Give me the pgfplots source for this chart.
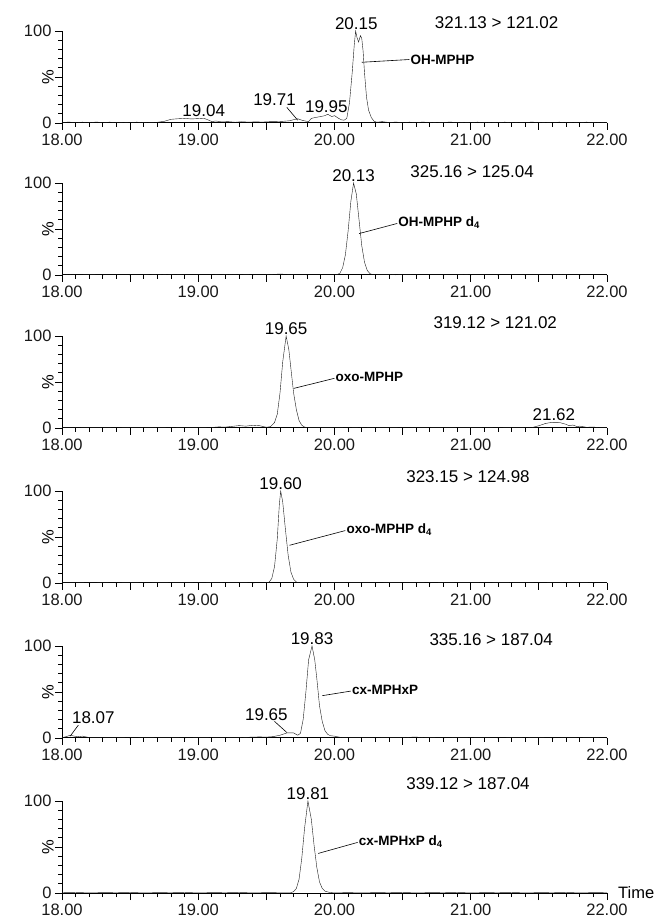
\documentclass[border=0pt]{standalone}
\usepackage{pgfplots}
\pgfplotsset{compat=1.18}
\usepackage{fontspec}
\setmainfont{Liberation Sans}
\newcommand\lab{\fontsize{16.5}{17}\selectfont}
\newcommand\tlab{\fontsize{17}{17}\selectfont}
\newcommand\cmp{\fontsize{13.5}{14}\selectfont\bfseries}
\pgfplotsset{chrom/.style={
  scale only axis, width=545pt, height=92pt,
  xmin=18, xmax=22, ymin=0, ymax=100,
  axis x line*=bottom, axis y line*=left,
  tick align=outside,
  xtick={18,18.5,19,19.5,20,20.5,21,21.5,22},
  xticklabels={18.00,,19.00,,20.00,,21.00,,22.00},
  minor x tick num=4,
  ytick={0,50,100}, yticklabels={0,,100},
  minor y tick num=4,
  major tick length=7pt, minor tick length=4pt,
  tick style={draw=black, line width=0.8pt},
  ticklabel style={font=\lab, text=black!90},
  /pgf/number format/assume math mode=true,
  ylabel={\%},
  ylabel style={at={(axis description cs:-0.026,0.5)}, anchor=center, font=\lab},
  clip=false,
  axis line style={line width=1pt, black},
  cycle list={{black!90, line width=0.9pt, no markers}},
}}
\begin{document}
\begin{tikzpicture}
\useasboundingbox (0,0) rectangle (654pt,917pt);
% Panel 1
\begin{axis}[chrom, at={(62pt,794pt)}, anchor=south west]
\addplot coordinates {(18.00,0.5)(18.05,1.0)(18.10,0.4)(18.15,0.9)(18.20,0.3)(18.25,1.0)(18.30,0.5)(18.35,0.9)(18.40,0.4)(18.45,0.8)(18.50,0.5)(18.55,0.9)(18.60,0.3)(18.65,0.7)(18.70,0.8)(18.75,1.8)(18.80,4.0)(18.85,4.6)(18.90,5.0)(18.95,4.4)(19.00,4.8)(19.04,5.2)(19.07,3.5)(19.10,1.5)(19.13,2.2)(19.17,1.2)(19.22,1.5)(19.27,0.8)(19.32,1.4)(19.37,0.9)(19.42,1.3)(19.47,1.0)(19.52,1.4)(19.57,1.5)(19.62,1.8)(19.67,2.4)(19.70,3.6)(19.73,4.6)(19.76,3.0)(19.79,2.0)(19.81,1.5)(19.83,5.0)(19.86,6.0)(19.90,7.0)(19.93,8.0)(19.95,9.5)(19.98,7.0)(20.00,8.0)(20.03,5.0)(20.05,3.5)(20.07,3.0)(20.09,5.0)(20.11,22)(20.13,55)(20.145,85)(20.155,100)(20.165,93)(20.177,88)(20.19,95)(20.20,92)(20.21,78)(20.22,55)(20.235,28)(20.25,14)(20.27,6)(20.29,2)(20.31,0.8)(20.35,1.5)(20.40,0.5)(20.45,1.0)(20.50,0.4)(20.55,0.9)(20.60,0.5)(20.65,1.0)(20.70,0.4)(20.75,0.8)(20.80,0.6)(20.85,1.0)(20.90,0.4)(20.95,0.8)(21.00,0.5)(21.05,0.9)(21.10,0.3)(21.15,0.8)(21.20,0.5)(21.25,0.9)(21.30,0.4)(21.35,0.8)(21.40,0.5)(21.45,1.0)(21.50,0.4)(21.55,0.8)(21.60,0.5)(21.65,0.9)(21.70,0.4)(21.75,0.8)(21.80,0.5)(21.85,0.9)(21.90,0.3)(21.95,0.8)(22.00,0.4)};
\node[anchor=south, font=\tlab, inner sep=1pt] at (axis cs:20.16,100) {20.15};
\node[anchor=center, font=\tlab] at (axis cs:21.19,109) {321.13 > 121.02};
\draw[line width=0.6pt] (axis cs:20.20,66) -- (axis cs:20.55,69);
\node[anchor=west, font=\cmp, inner sep=1pt] at (axis cs:20.55,69) {OH-MPHP};
\node[anchor=south, font=\tlab, inner sep=1pt] at (axis cs:19.04,6) {19.04};
\node[anchor=south, font=\tlab, inner sep=1pt] at (axis cs:19.56,17) {19.71};
\draw[line width=0.6pt] (axis cs:19.65,17) -- (axis cs:19.73,3);
\node[anchor=south, font=\tlab, inner sep=1pt] at (axis cs:19.94,10) {19.95};
\end{axis}
% Panel 2
\begin{axis}[chrom, at={(62pt,642pt)}, anchor=south west]
\addplot coordinates {(18.00,0.3)(18.05,0.8)(18.10,0.2)(18.20,0.4)(18.30,0.2)(18.40,0.3)(18.50,0.2)(18.60,0.3)(18.70,0.8)(18.75,0.4)(18.80,0.7)(18.90,0.2)(19.00,0.3)(19.10,0.2)(19.20,0.7)(19.25,0.3)(19.30,0.6)(19.40,0.2)(19.50,0.3)(19.55,0.8)(19.60,0.9)(19.65,0.8)(19.70,0.3)(19.80,0.2)(19.90,0.3)(20.00,0.2)(20.02,0.5)(20.04,2)(20.06,8)(20.08,22)(20.10,48)(20.12,80)(20.14,100)(20.16,88)(20.18,60)(20.20,32)(20.22,14)(20.24,5)(20.26,1.5)(20.28,0.5)(20.30,0.8)(20.35,0.6)(20.40,0.7)(20.45,0.2)(20.50,0.5)(20.60,0.2)(20.70,0.3)(20.80,0.2)(20.90,0.3)(20.95,0.5)(21.00,0.2)(21.10,0.3)(21.20,0.2)(21.30,0.3)(21.40,0.2)(21.50,0.3)(21.60,0.2)(21.65,0.8)(21.70,0.3)(21.80,0.2)(21.90,0.3)(22.00,0.2)};
\node[anchor=south, font=\tlab, inner sep=1pt] at (axis cs:20.14,100) {20.13};
\node[anchor=center, font=\tlab] at (axis cs:21.01,112) {325.16 > 125.04};
\draw[line width=0.6pt] (axis cs:20.18,45) -- (axis cs:20.46,56);
\node[anchor=west, font=\cmp, inner sep=1pt] at (axis cs:20.46,57) {OH-MPHP d\textsubscript{4}};
\end{axis}
% Panel 3
\begin{axis}[chrom, at={(62pt,489pt)}, anchor=south west]
\addplot coordinates {(18.00,0.3)(18.10,0.6)(18.20,0.3)(18.30,0.5)(18.40,0.2)(18.50,0.5)(18.60,0.3)(18.70,0.5)(18.80,0.2)(18.90,0.5)(19.00,0.3)(19.10,0.6)(19.15,1.2)(19.20,1.0)(19.25,1.8)(19.30,2.6)(19.35,2.0)(19.40,3.0)(19.45,2.5)(19.50,0.8)(19.53,1.5)(19.56,6)(19.58,15)(19.60,38)(19.62,72)(19.645,100)(19.665,85)(19.685,58)(19.70,38)(19.72,20)(19.74,8)(19.76,3)(19.78,1)(19.80,0.5)(19.90,0.3)(20.00,0.5)(20.10,0.2)(20.20,0.6)(20.30,0.3)(20.40,0.5)(20.50,0.2)(20.60,0.4)(20.70,0.3)(20.80,0.5)(20.90,0.3)(21.00,0.4)(21.10,0.3)(21.20,0.6)(21.30,0.3)(21.40,0.5)(21.45,0.5)(21.50,2.5)(21.55,5)(21.60,6.2)(21.65,6)(21.70,4)(21.72,2.5)(21.75,3.2)(21.78,1.5)(21.80,2)(21.85,0.8)(21.90,1.0)(21.95,0.4)(22.00,0.3)};
\node[anchor=south, font=\tlab, inner sep=1pt] at (axis cs:19.645,100) {19.65};
\node[anchor=center, font=\tlab] at (axis cs:21.18,115) {319.12 > 121.02};
\draw[line width=0.6pt] (axis cs:19.70,43) -- (axis cs:20.00,54);
\node[anchor=west, font=\cmp, inner sep=1pt] at (axis cs:20.00,55) {oxo-MPHP};
\node[anchor=south, font=\tlab, inner sep=1pt] at (axis cs:21.61,7) {21.62};
\end{axis}
% Panel 4
\begin{axis}[chrom, at={(62pt,334pt)}, anchor=south west]
\addplot coordinates {(18.00,0.3)(18.10,0.5)(18.20,0.2)(18.30,0.4)(18.40,0.2)(18.50,0.5)(18.60,0.2)(18.70,0.4)(18.80,0.3)(18.90,0.5)(19.00,0.2)(19.10,0.4)(19.20,0.3)(19.30,0.5)(19.40,0.2)(19.50,0.3)(19.52,1)(19.54,5)(19.56,18)(19.58,48)(19.595,85)(19.605,100)(19.62,88)(19.64,58)(19.66,30)(19.68,12)(19.70,4)(19.72,1)(19.74,0.3)(19.80,0.4)(19.90,0.2)(20.00,0.4)(20.10,0.3)(20.20,0.5)(20.30,0.2)(20.40,0.4)(20.50,0.3)(20.60,0.5)(20.70,0.2)(20.80,0.4)(20.90,0.3)(21.00,0.5)(21.10,0.2)(21.20,0.4)(21.30,0.3)(21.40,0.5)(21.50,0.2)(21.60,0.4)(21.70,0.3)(21.80,0.5)(21.90,0.2)(22.00,0.3)};
\node[anchor=south, font=\tlab, inner sep=1pt] at (axis cs:19.605,100) {19.60};
\node[anchor=center, font=\tlab] at (axis cs:20.98,116) {323.15 > 124.98};
\draw[line width=0.6pt] (axis cs:19.67,41) -- (axis cs:20.08,57);
\node[anchor=west, font=\cmp, inner sep=1pt] at (axis cs:20.08,58) {oxo-MPHP d\textsubscript{4}};
\end{axis}
% Panel 5
\begin{axis}[chrom, at={(62pt,179pt)}, anchor=south west]
\addplot coordinates {(18.00,0.2)(18.03,1.5)(18.06,3)(18.09,2)(18.12,1.5)(18.15,2)(18.20,0.5)(18.30,0.3)(18.40,0.5)(18.50,0.2)(18.60,0.4)(18.70,0.3)(18.80,0.5)(18.90,0.2)(19.00,0.4)(19.10,0.3)(19.20,0.5)(19.30,0.4)(19.40,1.0)(19.45,1.2)(19.50,1.0)(19.55,1.5)(19.60,3)(19.65,5.5)(19.70,5.5)(19.73,3)(19.75,5)(19.77,20)(19.79,50)(19.81,85)(19.835,100)(19.855,85)(19.87,65)(19.89,35)(19.91,18)(19.93,8)(19.95,4)(19.97,2.5)(20.00,2)(20.05,0.5)(20.10,0.3)(20.20,0.5)(20.30,0.2)(20.40,0.5)(20.50,0.3)(20.55,0.8)(20.60,1.0)(20.65,0.3)(20.70,0.4)(20.80,0.2)(20.90,0.4)(21.00,0.3)(21.10,0.4)(21.20,0.2)(21.30,0.4)(21.40,0.3)(21.50,0.4)(21.60,0.2)(21.70,0.4)(21.80,0.3)(21.90,0.4)(22.00,0.2)};
\node[anchor=south, font=\tlab, inner sep=1pt] at (axis cs:19.835,100) {19.83};
\node[anchor=center, font=\tlab] at (axis cs:21.15,107) {335.16 > 187.04};
\draw[line width=0.6pt] (axis cs:19.91,46) -- (axis cs:20.12,51);
\node[anchor=west, font=\cmp, inner sep=1pt] at (axis cs:20.12,52) {cx-MPHxP};
\node[anchor=south, font=\tlab, inner sep=1pt] at (axis cs:19.50,18) {19.65};
\draw[line width=0.6pt] (axis cs:19.56,18) -- (axis cs:19.65,6);
\node[anchor=south, font=\tlab, inner sep=1pt] at (axis cs:18.23,14) {18.07};
\draw[line width=0.6pt] (axis cs:18.12,14) -- (axis cs:18.06,2);
\end{axis}
% Panel 6
\begin{axis}[chrom, at={(62pt,24pt)}, anchor=south west]
\addplot coordinates {(18.00,0.3)(18.10,0.5)(18.20,0.2)(18.30,0.4)(18.40,0.3)(18.50,0.5)(18.60,0.2)(18.70,0.4)(18.80,0.3)(18.90,0.5)(19.00,0.2)(19.10,0.4)(19.20,0.3)(19.30,0.5)(19.40,0.2)(19.50,0.4)(19.60,0.3)(19.68,0.3)(19.70,1.5)(19.72,5)(19.74,15)(19.76,38)(19.78,70)(19.805,100)(19.83,80)(19.85,52)(19.87,28)(19.89,12)(19.91,5)(19.93,2)(19.96,0.8)(19.99,0.2)(20.10,0.4)(20.20,0.2)(20.30,0.4)(20.40,0.3)(20.50,0.5)(20.60,0.2)(20.70,0.4)(20.80,0.3)(20.90,0.5)(21.00,0.2)(21.10,0.4)(21.20,0.3)(21.30,0.5)(21.40,0.2)(21.50,0.4)(21.60,0.3)(21.70,0.5)(21.80,0.2)(21.90,0.4)(22.00,0.3)};
\node[anchor=south, font=\tlab, inner sep=1pt] at (axis cs:19.805,100) {19.81};
\node[anchor=center, font=\tlab] at (axis cs:20.98,119) {339.12 > 187.04};
\draw[line width=0.6pt] (axis cs:19.88,43) -- (axis cs:20.17,55);
\node[anchor=west, font=\cmp, inner sep=1pt] at (axis cs:20.17,56) {cx-MPHxP d\textsubscript{4}};
\node[anchor=west, font=\lab, inner sep=0pt] at ([xshift=11pt]axis description cs:1,0) {Time};
\end{axis}
\end{tikzpicture}
\end{document}
